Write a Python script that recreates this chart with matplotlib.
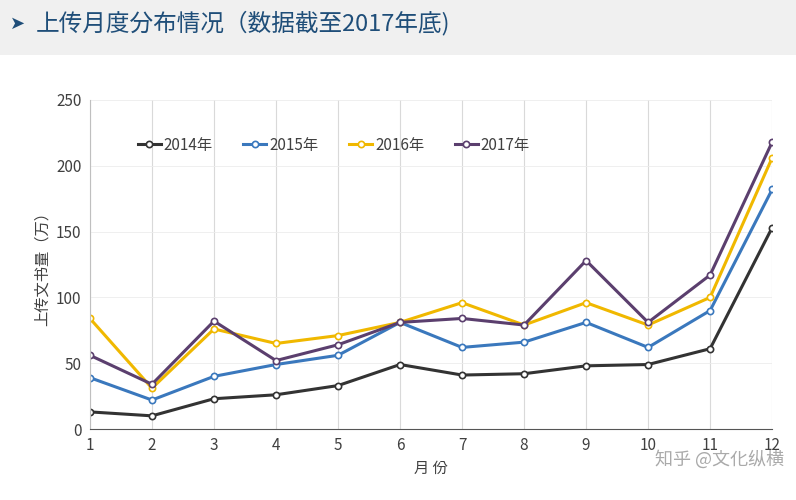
import matplotlib.pyplot as plt
from matplotlib import font_manager as fm

# locate a CJK font file
cjk = None
for f in fm.findSystemFonts():
    if "CJK" in f or "cjk" in f.lower():
        cjk = f
        if "SC" in f or "Regular" in f:
            break
if cjk:
    fm.fontManager.addfont(cjk)
    cjk_name = fm.FontProperties(fname=cjk).get_name()
    plt.rcParams["font.family"] = [cjk_name, "DejaVu Sans"]
else:
    plt.rcParams["font.family"] = ["Noto Sans CJK SC", "Noto Sans CJK JP", "DejaVu Sans"]

months = list(range(1, 13))
series_names = ["2014年", "2015年", "2016年", "2017年"]
v2014 = [13, 10, 23, 26, 33, 49, 41, 42, 48, 49, 61, 153]
v2015 = [39, 22, 40, 49, 56, 81, 62, 66, 81, 62, 90, 182]
v2016 = [84, 31, 76, 65, 71, 81, 96, 79, 96, 79, 100, 206]
v2017 = [56, 34, 82, 52, 64, 81, 84, 79, 128, 81, 117, 218]
colors = ["#333333", "#3a78bd", "#f0b800", "#5b3f6e"]

fig = plt.figure(figsize=(7.96, 5.0), dpi=100)
# header band
band = fig.add_axes([0, 0.89, 1, 0.11])
band.set_xlim(0, 1); band.set_ylim(0, 1); band.axis("off")
band.add_patch(plt.Rectangle((0, 0), 1, 1, color="#f0f0f0"))
fig.text(0.012, 0.953, "➤", color="#1f4e79", fontsize=13, va="center", family="DejaVu Sans")
fig.text(0.045, 0.953, "上传月度分布情况（数据截至2017年底)", color="#1f4e79", fontsize=17, va="center")

ax = fig.add_axes([0.113, 0.142, 0.857, 0.658])
for vals, c, name in zip([v2014, v2015, v2016, v2017], colors, series_names):
    ax.plot(months, vals, color=c, lw=2.2, marker="o", ms=4.5,
            mfc="white", mec=c, mew=1.2, label=name)
ax.set_xlim(1, 12)
ax.set_ylim(0, 250)
ax.set_xticks(months)
ax.set_yticks(range(0, 251, 50))
ax.grid(axis="x", color="#d9d9d9", lw=0.8)
ax.grid(axis="y", color="#ececec", lw=0.6)
ax.set_axisbelow(True)
for s in ["top", "right"]:
    ax.spines[s].set_visible(False)
ax.spines["left"].set_color("#bfbfbf")
ax.spines["bottom"].set_color("#555555")
ax.tick_params(colors="#404040", labelsize=11, length=0, pad=6)
ax.set_ylabel("上传文书量（万）", fontsize=11, color="#404040")
ax.set_xlabel("月 份", fontsize=11, color="#404040")
ax.legend(loc="upper left", bbox_to_anchor=(0.05, 0.93), ncol=4, frameon=False,
          fontsize=11, handlelength=1.5, columnspacing=2.0, handletextpad=0.2,
          labelcolor="#404040")
fig.text(0.985, 0.07, "知乎 @文化纵横", color="#aaaaaa", fontsize=13, ha="right")
fig.savefig("out.png")
